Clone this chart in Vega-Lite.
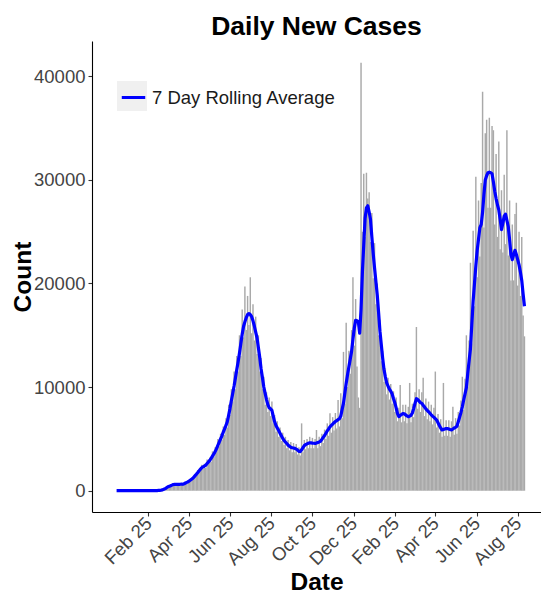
{
"$schema":"https://vega.github.io/schema/vega-lite/v6.json",
"width":449,"height":471,
"autosize":{"type":"none"},
"padding":{"left":92,"top":41,"right":0,"bottom":82},
"background":"white",
"title":{"text":"Daily New Cases","font":"Liberation Sans","fontSize":26.5,"fontWeight":"bold","color":"black","anchor":"middle","baseline":"alphabetic","offset":7,"dy":27},
"config":{"view":{"stroke":null},
"axis":{"domainColor":"black","domainWidth":1.1,"tickColor":"#333333","tickWidth":1.1,"tickSize":4,"grid":false,"labelFont":"Liberation Sans","labelFontSize":18.5,"labelColor":"#444444","titleFont":"Liberation Sans","titleFontSize":24.5,"titleFontWeight":"bold","titleColor":"black"}},
"data":{"values":[
{"d":"2020-01-03","c":0,"a":null},{"d":"2020-01-05","c":0,"a":null},{"d":"2020-01-07","c":0,"a":null},{"d":"2020-01-09","c":0,"a":0},{"d":"2020-01-11","c":0,"a":0},{"d":"2020-01-13","c":0,"a":0},{"d":"2020-01-15","c":0,"a":0},{"d":"2020-01-17","c":0,"a":0},{"d":"2020-01-19","c":0,"a":0},{"d":"2020-01-21","c":0,"a":0},{"d":"2020-01-23","c":0,"a":0},{"d":"2020-01-25","c":0,"a":0},{"d":"2020-01-27","c":0,"a":0},{"d":"2020-01-29","c":0,"a":0},{"d":"2020-01-31","c":0,"a":0},
{"d":"2020-02-02","c":0,"a":0},{"d":"2020-02-04","c":0,"a":0},{"d":"2020-02-06","c":0,"a":0},{"d":"2020-02-08","c":0,"a":0},{"d":"2020-02-10","c":0,"a":0},{"d":"2020-02-12","c":0,"a":0},{"d":"2020-02-14","c":0,"a":0},{"d":"2020-02-16","c":0,"a":0},{"d":"2020-02-18","c":0,"a":0},{"d":"2020-02-20","c":0,"a":0},{"d":"2020-02-22","c":0,"a":0},{"d":"2020-02-24","c":0,"a":0},{"d":"2020-02-26","c":0,"a":0},{"d":"2020-02-28","c":0,"a":0},
{"d":"2020-03-01","c":0,"a":0},{"d":"2020-03-03","c":0,"a":0},{"d":"2020-03-05","c":6,"a":5},{"d":"2020-03-07","c":12,"a":10},{"d":"2020-03-09","c":20,"a":15},{"d":"2020-03-11","c":30,"a":25},{"d":"2020-03-13","c":45,"a":35},{"d":"2020-03-15","c":70,"a":50},{"d":"2020-03-17","c":110,"a":80},{"d":"2020-03-19","c":170,"a":140},{"d":"2020-03-21","c":240,"a":200},{"d":"2020-03-23","c":330,"a":290},{"d":"2020-03-25","c":400,"a":370},{"d":"2020-03-27","c":460,"a":420},{"d":"2020-03-29","c":530,"a":480},{"d":"2020-03-31","c":600,"a":540},
{"d":"2020-04-02","c":650,"a":600},{"d":"2020-04-04","c":600,"a":620},{"d":"2020-04-06","c":680,"a":620},{"d":"2020-04-08","c":560,"a":610},{"d":"2020-04-10","c":700,"a":620},{"d":"2020-04-12","c":600,"a":620},{"d":"2020-04-14","c":650,"a":630},{"d":"2020-04-16","c":690,"a":620},{"d":"2020-04-18","c":620,"a":670},{"d":"2020-04-20","c":800,"a":740},{"d":"2020-04-22","c":700,"a":800},{"d":"2020-04-24","c":980,"a":860},{"d":"2020-04-26","c":900,"a":960},{"d":"2020-04-28","c":1100,"a":1060},{"d":"2020-04-30","c":1300,"a":1160},
{"d":"2020-05-02","c":1150,"a":1270},{"d":"2020-05-04","c":1550,"a":1430},{"d":"2020-05-06","c":1400,"a":1580},{"d":"2020-05-08","c":2000,"a":1740},{"d":"2020-05-10","c":1800,"a":1900},{"d":"2020-05-12","c":2200,"a":2060},{"d":"2020-05-14","c":2500,"a":2210},{"d":"2020-05-16","c":2100,"a":2300},{"d":"2020-05-18","c":2600,"a":2380},{"d":"2020-05-20","c":2200,"a":2460},{"d":"2020-05-22","c":3000,"a":2620},{"d":"2020-05-24","c":2600,"a":2780},{"d":"2020-05-26","c":3200,"a":2930},{"d":"2020-05-28","c":2800,"a":3120},{"d":"2020-05-30","c":3800,"a":3340},
{"d":"2020-06-01","c":3300,"a":3550},{"d":"2020-06-03","c":4200,"a":3770},{"d":"2020-06-05","c":3700,"a":4070},{"d":"2020-06-07","c":5000,"a":4380},{"d":"2020-06-09","c":4300,"a":4690},{"d":"2020-06-11","c":5500,"a":5000},{"d":"2020-06-13","c":4900,"a":5300},{"d":"2020-06-15","c":6200,"a":5650},{"d":"2020-06-17","c":5400,"a":5980},{"d":"2020-06-19","c":7000,"a":6300},{"d":"2020-06-21","c":6100,"a":6680},{"d":"2020-06-23","c":8300,"a":7300},{"d":"2020-06-25","c":7300,"a":7950},{"d":"2020-06-27","c":9800,"a":8700},{"d":"2020-06-29","c":8600,"a":9400},
{"d":"2020-07-01","c":11500,"a":10100},{"d":"2020-07-03","c":9800,"a":10900},{"d":"2020-07-05","c":13000,"a":11700},{"d":"2020-07-07","c":11500,"a":12450},{"d":"2020-07-09","c":15000,"a":13300},{"d":"2020-07-11","c":13000,"a":14200},{"d":"2020-07-13","c":17500,"a":15100},{"d":"2020-07-15","c":14800,"a":15850},{"d":"2020-07-17","c":19700,"a":16300},{"d":"2020-07-19","c":15500,"a":16700},{"d":"2020-07-21","c":18800,"a":17000},{"d":"2020-07-23","c":16000,"a":17100},{"d":"2020-07-25","c":20600,"a":17000},{"d":"2020-07-27","c":15200,"a":16800},{"d":"2020-07-29","c":18000,"a":16400},{"d":"2020-07-31","c":14500,"a":15900},
{"d":"2020-08-02","c":16800,"a":15300},{"d":"2020-08-04","c":13200,"a":14750},{"d":"2020-08-06","c":15000,"a":13800},{"d":"2020-08-08","c":11500,"a":12850},{"d":"2020-08-10","c":12800,"a":11750},{"d":"2020-08-12","c":9800,"a":10900},{"d":"2020-08-14","c":11000,"a":10000},{"d":"2020-08-16","c":8300,"a":9400},{"d":"2020-08-18","c":9500,"a":8800},{"d":"2020-08-20","c":7600,"a":8300},{"d":"2020-08-22","c":9000,"a":8000},{"d":"2020-08-24","c":7200,"a":7900},{"d":"2020-08-26","c":8600,"a":7750},{"d":"2020-08-28","c":6500,"a":7200},{"d":"2020-08-30","c":7300,"a":6650},
{"d":"2020-09-01","c":5700,"a":6300},{"d":"2020-09-03","c":6700,"a":6050},{"d":"2020-09-05","c":5200,"a":5800},{"d":"2020-09-07","c":6100,"a":5550},{"d":"2020-09-09","c":4800,"a":5300},{"d":"2020-09-11","c":5600,"a":5050},{"d":"2020-09-13","c":4400,"a":4850},{"d":"2020-09-15","c":5200,"a":4700},{"d":"2020-09-17","c":4100,"a":4550},{"d":"2020-09-19","c":4900,"a":4400},{"d":"2020-09-21","c":3900,"a":4300},{"d":"2020-09-23","c":4700,"a":4200},{"d":"2020-09-25","c":3700,"a":4150},{"d":"2020-09-27","c":4600,"a":4120},{"d":"2020-09-29","c":3700,"a":4090},
{"d":"2020-10-01","c":4500,"a":4020},{"d":"2020-10-03","c":3500,"a":3920},{"d":"2020-10-05","c":4200,"a":3800},{"d":"2020-10-07","c":3400,"a":3780},{"d":"2020-10-09","c":6500,"a":3950},{"d":"2020-10-11","c":3700,"a":4150},{"d":"2020-10-13","c":4900,"a":4350},{"d":"2020-10-15","c":4000,"a":4450},{"d":"2020-10-17","c":5000,"a":4520},{"d":"2020-10-19","c":4100,"a":4580},{"d":"2020-10-21","c":5200,"a":4620},{"d":"2020-10-23","c":4100,"a":4610},{"d":"2020-10-25","c":5100,"a":4590},{"d":"2020-10-27","c":4100,"a":4580},{"d":"2020-10-29","c":5000,"a":4570},{"d":"2020-10-31","c":5860,"a":4610},
{"d":"2020-11-02","c":4100,"a":4660},{"d":"2020-11-04","c":5200,"a":4710},{"d":"2020-11-06","c":4300,"a":4770},{"d":"2020-11-08","c":5500,"a":4950},{"d":"2020-11-10","c":4600,"a":5150},{"d":"2020-11-12","c":5900,"a":5330},{"d":"2020-11-14","c":5000,"a":5550},{"d":"2020-11-16","c":6500,"a":5780},{"d":"2020-11-18","c":5300,"a":5960},{"d":"2020-11-20","c":7470,"a":6170},{"d":"2020-11-22","c":5600,"a":6300},{"d":"2020-11-24","c":7100,"a":6430},{"d":"2020-11-26","c":5800,"a":6560},{"d":"2020-11-28","c":7500,"a":6680},{"d":"2020-11-30","c":6000,"a":6770},
{"d":"2020-12-02","c":8750,"a":6860},{"d":"2020-12-04","c":6200,"a":6950},{"d":"2020-12-06","c":9400,"a":7200},{"d":"2020-12-08","c":7000,"a":7850},{"d":"2020-12-10","c":13400,"a":8450},{"d":"2020-12-12","c":8400,"a":9400},{"d":"2020-12-14","c":16200,"a":10350},{"d":"2020-12-16","c":10000,"a":11200},{"d":"2020-12-18","c":13500,"a":11950},{"d":"2020-12-20","c":11300,"a":12700},{"d":"2020-12-22","c":15500,"a":13450},{"d":"2020-12-24","c":20600,"a":14600},{"d":"2020-12-26","c":14000,"a":15700},{"d":"2020-12-28","c":18500,"a":16450},{"d":"2020-12-30","c":12000,"a":16400},
{"d":"2021-01-01","c":9000,"a":16300},{"d":"2021-01-03","c":8000,"a":15200},{"d":"2021-01-05","c":41300,"a":17500},{"d":"2021-01-07","c":25000,"a":21100},{"d":"2021-01-09","c":30600,"a":23700},{"d":"2021-01-11","c":24500,"a":26300},{"d":"2021-01-13","c":30700,"a":27300},{"d":"2021-01-15","c":28200,"a":27500},{"d":"2021-01-17","c":28800,"a":26900},{"d":"2021-01-19","c":24000,"a":26200},{"d":"2021-01-21","c":26800,"a":24500},{"d":"2021-01-23","c":20500,"a":22900},{"d":"2021-01-25","c":23900,"a":21500},{"d":"2021-01-27","c":18000,"a":20200},{"d":"2021-01-29","c":20000,"a":18900},{"d":"2021-01-31","c":15000,"a":17200},
{"d":"2021-02-02","c":16500,"a":15400},{"d":"2021-02-04","c":12500,"a":14100},{"d":"2021-02-06","c":13500,"a":12800},{"d":"2021-02-08","c":10500,"a":11700},{"d":"2021-02-10","c":11800,"a":11000},{"d":"2021-02-12","c":9300,"a":10400},{"d":"2021-02-14","c":10900,"a":10100},{"d":"2021-02-16","c":8800,"a":9800},{"d":"2021-02-18","c":10300,"a":9600},{"d":"2021-02-20","c":8400,"a":9350},{"d":"2021-02-22","c":9600,"a":8900},{"d":"2021-02-24","c":7600,"a":8500},{"d":"2021-02-26","c":9000,"a":8000},{"d":"2021-02-28","c":6700,"a":7450},
{"d":"2021-03-02","c":8000,"a":7150},{"d":"2021-03-04","c":10200,"a":7250},{"d":"2021-03-06","c":6600,"a":7350},{"d":"2021-03-08","c":8300,"a":7450},{"d":"2021-03-10","c":6700,"a":7420},{"d":"2021-03-12","c":8300,"a":7320},{"d":"2021-03-14","c":6500,"a":7220},{"d":"2021-03-16","c":8100,"a":7140},{"d":"2021-03-18","c":10400,"a":7200},{"d":"2021-03-20","c":6600,"a":7280},{"d":"2021-03-22","c":8400,"a":7500},{"d":"2021-03-24","c":7100,"a":7950},{"d":"2021-03-26","c":9500,"a":8450},{"d":"2021-03-28","c":15800,"a":8880},{"d":"2021-03-30","c":7900,"a":8800},
{"d":"2021-04-01","c":9800,"a":8650},{"d":"2021-04-03","c":7600,"a":8500},{"d":"2021-04-05","c":9500,"a":8430},{"d":"2021-04-07","c":10900,"a":8250},{"d":"2021-04-09","c":7200,"a":8080},{"d":"2021-04-11","c":8900,"a":7900},{"d":"2021-04-13","c":6900,"a":7750},{"d":"2021-04-15","c":8600,"a":7620},{"d":"2021-04-17","c":6700,"a":7480},{"d":"2021-04-19","c":8300,"a":7330},{"d":"2021-04-21","c":6400,"a":7200},{"d":"2021-04-23","c":8000,"a":7080},{"d":"2021-04-25","c":11500,"a":6950},{"d":"2021-04-27","c":6100,"a":6820},{"d":"2021-04-29","c":7400,"a":6560},
{"d":"2021-05-01","c":5600,"a":6300},{"d":"2021-05-03","c":6900,"a":6050},{"d":"2021-05-05","c":5200,"a":5860},{"d":"2021-05-07","c":10400,"a":5900},{"d":"2021-05-09","c":5300,"a":5950},{"d":"2021-05-11","c":6800,"a":6000},{"d":"2021-05-13","c":5300,"a":5990},{"d":"2021-05-15","c":6800,"a":5950},{"d":"2021-05-17","c":5200,"a":5900},{"d":"2021-05-19","c":6700,"a":5860},{"d":"2021-05-21","c":8100,"a":5950},{"d":"2021-05-23","c":5400,"a":6050},{"d":"2021-05-25","c":7000,"a":6120},{"d":"2021-05-27","c":5500,"a":6220},{"d":"2021-05-29","c":7600,"a":6650},{"d":"2021-05-31","c":6300,"a":7100},
{"d":"2021-06-02","c":8700,"a":7550},{"d":"2021-06-04","c":11000,"a":8100},{"d":"2021-06-06","c":7800,"a":8750},{"d":"2021-06-08","c":10800,"a":9350},{"d":"2021-06-10","c":15000,"a":9950},{"d":"2021-06-12","c":10000,"a":11300},{"d":"2021-06-14","c":14500,"a":12500},{"d":"2021-06-16","c":22000,"a":13700},{"d":"2021-06-18","c":14200,"a":16000},{"d":"2021-06-20","c":25100,"a":18300},{"d":"2021-06-22","c":17800,"a":20000},{"d":"2021-06-24","c":30300,"a":21700},{"d":"2021-06-26","c":20600,"a":23200},{"d":"2021-06-28","c":28000,"a":24300},{"d":"2021-06-30","c":22600,"a":25400},
{"d":"2021-07-02","c":29700,"a":25700},{"d":"2021-07-04","c":38500,"a":26900},{"d":"2021-07-06","c":25400,"a":28600},{"d":"2021-07-08","c":34500,"a":30000},{"d":"2021-07-10","c":35800,"a":30400},{"d":"2021-07-12","c":27300,"a":30700},{"d":"2021-07-14","c":36000,"a":30750},{"d":"2021-07-16","c":27300,"a":30700},{"d":"2021-07-18","c":35200,"a":30600},{"d":"2021-07-20","c":34800,"a":29800},{"d":"2021-07-22","c":25700,"a":28900},{"d":"2021-07-24","c":32500,"a":28200},{"d":"2021-07-26","c":24500,"a":27600},{"d":"2021-07-28","c":33700,"a":27100},{"d":"2021-07-30","c":23300,"a":26200},
{"d":"2021-08-01","c":29000,"a":25200},{"d":"2021-08-03","c":23000,"a":25800},{"d":"2021-08-05","c":30500,"a":26500},{"d":"2021-08-07","c":23800,"a":26700},{"d":"2021-08-09","c":34800,"a":26100},{"d":"2021-08-11","c":22700,"a":25500},{"d":"2021-08-13","c":28000,"a":24200},{"d":"2021-08-15","c":20300,"a":22800},{"d":"2021-08-17","c":25700,"a":22300},{"d":"2021-08-19","c":20300,"a":22800},{"d":"2021-08-21","c":26700,"a":23200},{"d":"2021-08-23","c":27800,"a":22800},{"d":"2021-08-25","c":19800,"a":22300},{"d":"2021-08-27","c":25000,"a":21800},{"d":"2021-08-29","c":18800,"a":21100},{"d":"2021-08-31","c":24500,"a":20300},
{"d":"2021-09-02","c":16900,"a":19000},{"d":"2021-09-04","c":14900,"a":17800}
]},
"encoding":{"x":{"field":"d","type":"temporal","title":"Date",
 "scale":{"type":"utc","padding":0,"domain":[{"year":2019,"month":"dec","date":3,"hours":14,"utc":true},{"year":2021,"month":"sep","date":28,"hours":12,"utc":true}]},
 "axis":{"values":[{"year":2020,"month":"feb","date":25,"utc":true},{"year":2020,"month":"apr","date":25,"utc":true},{"year":2020,"month":"jun","date":25,"utc":true},{"year":2020,"month":"aug","date":25,"utc":true},{"year":2020,"month":"oct","date":25,"utc":true},{"year":2020,"month":"dec","date":25,"utc":true},{"year":2021,"month":"feb","date":25,"utc":true},{"year":2021,"month":"apr","date":25,"utc":true},{"year":2021,"month":"jun","date":25,"utc":true},{"year":2021,"month":"aug","date":25,"utc":true}],
 "format":"%b %d","labelAngle":-45,"labelAlign":"right","labelBaseline":"middle","labelPadding":4,"labelOverlap":false,"labelFlush":false,"titleY":77,"titleBaseline":"alphabetic"}}},
"layer":[
{"mark":{"type":"bar","width":1.45},
 "encoding":{
  "y":{"field":"c","type":"quantitative","title":"Count","scale":{"domain":[-2056,43407],"nice":false,"zero":false},
   "axis":{"values":[0,10000,20000,30000,40000],"format":"d","titleAngle":-90,"titleX":-62,"titleY":235.5,"titleBaseline":"alphabetic","titleAlign":"center","labelPadding":3}},
  "y2":{"datum":0},
  "fill":{"datum":"key","type":"nominal","scale":{"range":["#A9A9A9"]},
   "legend":{"orient":"none","legendX":25,"legendY":40,"title":null,"symbolType":"square","symbolSize":900,"symbolStrokeWidth":0,"symbolOpacity":0.17,"labelExpr":"''","padding":0,"zindex":0}}}},
{"mark":{"type":"line","strokeWidth":3.2,"strokeJoin":"round"},
 "encoding":{
  "y":{"field":"a","type":"quantitative","title":"Count","scale":{"domain":[-2056,43407],"nice":false,"zero":false},
   "axis":{"values":[0,10000,20000,30000,40000],"format":"d","titleAngle":-90,"titleX":-62,"titleY":235.5,"titleBaseline":"alphabetic","titleAlign":"center","labelPadding":3}},
  "stroke":{"datum":"7 Day Rolling Average","type":"nominal","scale":{"range":["#0000FF"]},
   "legend":{"orient":"none","legendX":28,"legendY":43,"title":null,"symbolType":"stroke","symbolSize":550,"symbolStrokeWidth":3,"labelFont":"Liberation Sans","labelFontSize":18.5,"labelColor":"#1A1A1A","labelOffset":5,"labelLimit":400,"padding":0,"zindex":1}}}}
]
}
